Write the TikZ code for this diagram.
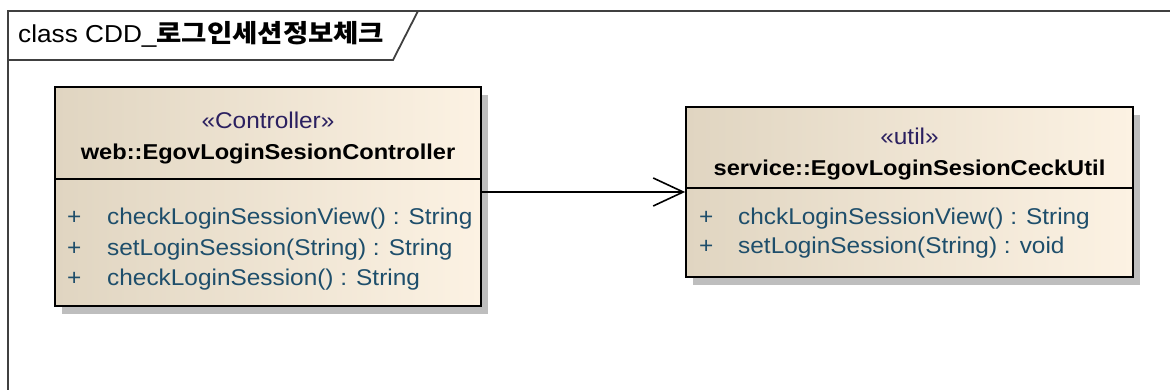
\documentclass[tikz,border=0pt]{standalone}
\usepackage{fontspec}
\setmainfont{Liberation Sans}
\newfontfamily\umlfont[FakeStretch=1.07]{Liberation Sans}
\newfontfamily\umlbfont[FakeStretch=1.1]{Liberation Sans}
\newfontfamily\krfont[FakeStretch=1.1]{Noto Sans CJK KR}
\usetikzlibrary{arrows.meta,shadows}
\definecolor{boxleft}{HTML}{E0D5C1}
\definecolor{boxright}{HTML}{FCF2E3}
\definecolor{stereocol}{HTML}{2B2060}
\definecolor{methcol}{HTML}{1E4E6B}
\definecolor{framecol}{HTML}{404040}
\definecolor{shadowcol}{HTML}{BEBEBE}
\tikzset{
  umlbox/.style={draw=black, line width=1.8pt, left color=boxleft, right color=boxright,
    inner sep=0pt, rectangle,
    drop shadow={shadow xshift=7pt, shadow yshift=-8pt, fill=shadowcol, opacity=1}},
  divider/.style={line width=1.5pt, black},
  stereo/.style={anchor=base, inner sep=0pt, text=stereocol, font=\umlfont\fontsize{22.8}{26}\selectfont},
  cname/.style={anchor=base, inner sep=0pt, text=black, font=\umlbfont\bfseries\fontsize{21.5}{25}\selectfont},
  meth/.style={anchor=base west, inner sep=0pt, text=methcol, font=\umlfont\fontsize{22.8}{26}\selectfont},
  framestyle/.style={draw=framecol, line width=1.8pt},
  dep/.style={line width=1.6pt, black, -{Straight Barb[length=30pt,width=28pt,line width=1.6pt]}}
}
\begin{document}
\begin{tikzpicture}[x=1pt,y=-1pt]
\useasboundingbox (0,0) rectangle (1170,390);
\fill[white] (0,0) rectangle (1170,390);
% frame
\draw[framestyle] (8,390) -- (8,11) -- (1171,11);
\draw[framestyle] (8,60) -- (393,60) -- (418,11);
\node[anchor=base west, inner sep=0pt, font=\umlfont\fontsize{24.5}{27}\selectfont] (title) at (18,43)
  {class CDD\_{\krfont\bfseries\fontsize{25}{27}\selectfont 로그인세션정보체크}};

% controller class
\node[umlbox, minimum width=426pt, minimum height=219pt] (ctrl) at (268,196.5) {};
\draw[divider] (ctrl.west |- 0,179) -- (ctrl.east |- 0,179);
\node[stereo] (ctrlst) at (268,129) {«Controller»};
\node[cname] (ctrlname) at (268,160) {web::EgovLoginSesionController};
\node[meth] (cp1) at (67,225) {+};
\node[meth] (cm1) at (107,225) {checkLoginSessionView() : String};
\node[meth] (cp2) at (67,255) {+};
\node[meth] (cm2) at (107,255) {setLoginSession(String) : String};
\node[meth] (cp3) at (67,285) {+};
\node[meth] (cm3) at (107,285) {checkLoginSession() : String};

% util class
\node[umlbox, minimum width=447pt, minimum height=170pt] (util) at (909.5,192) {};
\draw[divider] (util.west |- 0,188) -- (util.east |- 0,188);
\node[stereo] (utilst) at (909.5,145) {«util»};
\node[cname] (utilname) at (909.5,176) {service::EgovLoginSesionCeckUtil};
\node[meth] (up1) at (699,225) {+};
\node[meth] (um1) at (738,225) {chckLoginSessionView() : String};
\node[meth] (up2) at (699,254) {+};
\node[meth] (um2) at (738,254) {setLoginSession(String) : void};

% dependency
\draw[dep] (ctrl.east |- util.west) -- (util.west);
\end{tikzpicture}
\end{document}
